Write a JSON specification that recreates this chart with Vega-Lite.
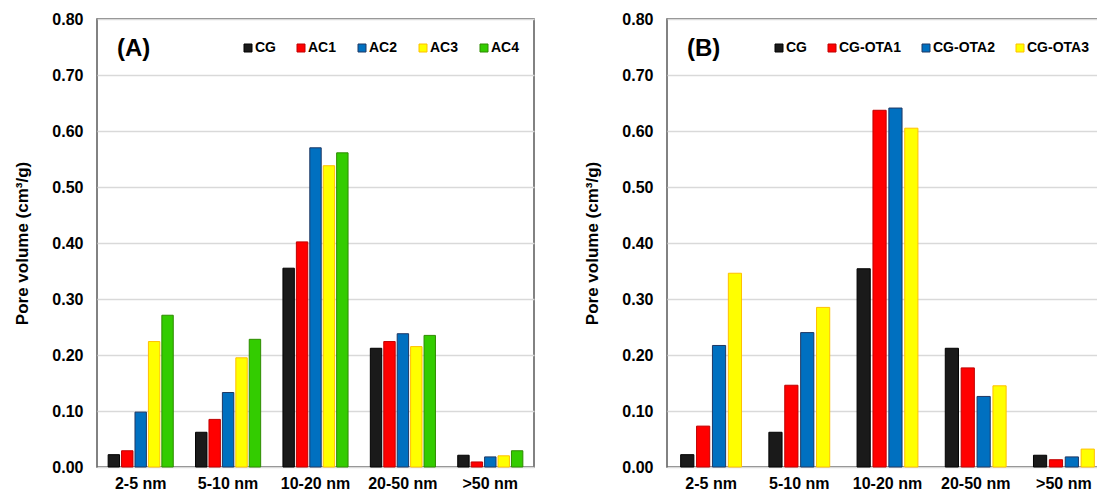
{
  "$schema": "https://vega.github.io/schema/vega-lite/v6.json",
  "background": "white",
  "padding": {"left": 13, "top": 10, "right": 0, "bottom": 0},
  "spacing": 48,
  "config": {
    "font": "Liberation Sans",
    "view": {"stroke": "#595959", "strokeWidth": 1.5},
    "axis": {
      "labelFont": "Liberation Sans",
      "labelFontSize": 16,
      "labelFontWeight": "bold",
      "labelColor": "#000000",
      "titleFont": "Liberation Sans",
      "titleFontSize": 17,
      "titleFontWeight": "bold",
      "titleColor": "#000000",
      "ticks": false,
      "domain": false
    },
    "axisX": {"grid": false, "labelPadding": 8, "labelAngle": 0, "title": null},
    "axisY": {"gridColor": "#d9d9d9", "gridWidth": 1.5, "labelPadding": 14, "titlePadding": 20},
    "legend": {
      "orient": "none",
      "direction": "horizontal",
      "title": null,
      "padding": 0,
      "labelFont": "Liberation Sans",
      "labelFontSize": 14,
      "labelFontWeight": "bold",
      "labelColor": "#000000",
      "labelOffset": 0,
      "symbolType": "square",
      "symbolSize": 64,
      "symbolStrokeWidth": 1,
      "columnPadding": 18
    },
    "title": {
      "font": "Liberation Sans",
      "fontSize": 24,
      "fontWeight": "bold",
      "color": "#000000",
      "anchor": "start",
      "frame": "group",
      "offset": 0,
      "baseline": "alphabetic",
      "dx": 20,
      "dy": 54
    }
  },
  "hconcat": [
    {
      "width": 437,
      "height": 448,
      "title": {"text": "(A)"},
      "data": {
        "values": [
          {"size": "2-5 nm", "sample": "CG", "volume": 0.022},
          {"size": "2-5 nm", "sample": "AC1", "volume": 0.029},
          {"size": "2-5 nm", "sample": "AC2", "volume": 0.098},
          {"size": "2-5 nm", "sample": "AC3", "volume": 0.224},
          {"size": "2-5 nm", "sample": "AC4", "volume": 0.271},
          {"size": "5-10 nm", "sample": "CG", "volume": 0.062},
          {"size": "5-10 nm", "sample": "AC1", "volume": 0.085},
          {"size": "5-10 nm", "sample": "AC2", "volume": 0.133},
          {"size": "5-10 nm", "sample": "AC3", "volume": 0.195},
          {"size": "5-10 nm", "sample": "AC4", "volume": 0.228},
          {"size": "10-20 nm", "sample": "CG", "volume": 0.355},
          {"size": "10-20 nm", "sample": "AC1", "volume": 0.402},
          {"size": "10-20 nm", "sample": "AC2", "volume": 0.570},
          {"size": "10-20 nm", "sample": "AC3", "volume": 0.538},
          {"size": "10-20 nm", "sample": "AC4", "volume": 0.561},
          {"size": "20-50 nm", "sample": "CG", "volume": 0.212},
          {"size": "20-50 nm", "sample": "AC1", "volume": 0.224},
          {"size": "20-50 nm", "sample": "AC2", "volume": 0.238},
          {"size": "20-50 nm", "sample": "AC3", "volume": 0.215},
          {"size": "20-50 nm", "sample": "AC4", "volume": 0.235},
          {"size": ">50 nm", "sample": "CG", "volume": 0.021},
          {"size": ">50 nm", "sample": "AC1", "volume": 0.009},
          {"size": ">50 nm", "sample": "AC2", "volume": 0.018},
          {"size": ">50 nm", "sample": "AC3", "volume": 0.020},
          {"size": ">50 nm", "sample": "AC4", "volume": 0.029}
        ]
      },
      "mark": {"type": "bar", "strokeWidth": 1},
      "encoding": {
        "x": {
          "field": "size",
          "type": "nominal",
          "sort": ["2-5 nm", "5-10 nm", "10-20 nm", "20-50 nm", ">50 nm"],
          "scale": {"paddingInner": 0.255, "paddingOuter": 0.1275}
        },
        "xOffset": {
          "field": "sample",
          "type": "nominal",
          "sort": ["CG", "AC1", "AC2", "AC3", "AC4"],
          "scale": {"paddingInner": 0.15}
        },
        "y": {
          "field": "volume",
          "type": "quantitative",
          "scale": {"domain": [0, 0.8], "nice": false},
          "axis": {
            "values": [0, 0.1, 0.2, 0.3, 0.4, 0.5, 0.6, 0.7, 0.8],
            "format": ".2f",
            "title": "Pore volume (cm³/g)"
          }
        },
        "fill": {
          "field": "sample",
          "type": "nominal",
          "scale": {
            "domain": ["CG", "AC1", "AC2", "AC3", "AC4"],
            "range": ["#1a1a1a", "#ff0000", "#0070c0", "#ffff00", "#33cc00"]
          },
          "legend": {"legendX": 144, "legendY": 22}
        },
        "stroke": {
          "field": "sample",
          "type": "nominal",
          "scale": {
            "domain": ["CG", "AC1", "AC2", "AC3", "AC4"],
            "range": ["#000000", "#c00000", "#1f3864", "#ffc000", "#2e8b00"]
          },
          "legend": {"legendX": 144, "legendY": 22}
        }
      }
    },
    {
      "width": 441,
      "height": 448,
      "title": {"text": "(B)"},
      "data": {
        "values": [
          {"size": "2-5 nm", "sample": "CG", "volume": 0.022},
          {"size": "2-5 nm", "sample": "CG-OTA1", "volume": 0.073},
          {"size": "2-5 nm", "sample": "CG-OTA2", "volume": 0.217},
          {"size": "2-5 nm", "sample": "CG-OTA3", "volume": 0.346},
          {"size": "5-10 nm", "sample": "CG", "volume": 0.062},
          {"size": "5-10 nm", "sample": "CG-OTA1", "volume": 0.146},
          {"size": "5-10 nm", "sample": "CG-OTA2", "volume": 0.240},
          {"size": "5-10 nm", "sample": "CG-OTA3", "volume": 0.285},
          {"size": "10-20 nm", "sample": "CG", "volume": 0.354},
          {"size": "10-20 nm", "sample": "CG-OTA1", "volume": 0.637},
          {"size": "10-20 nm", "sample": "CG-OTA2", "volume": 0.641},
          {"size": "10-20 nm", "sample": "CG-OTA3", "volume": 0.605},
          {"size": "20-50 nm", "sample": "CG", "volume": 0.212},
          {"size": "20-50 nm", "sample": "CG-OTA1", "volume": 0.177},
          {"size": "20-50 nm", "sample": "CG-OTA2", "volume": 0.126},
          {"size": "20-50 nm", "sample": "CG-OTA3", "volume": 0.145},
          {"size": ">50 nm", "sample": "CG", "volume": 0.021},
          {"size": ">50 nm", "sample": "CG-OTA1", "volume": 0.013},
          {"size": ">50 nm", "sample": "CG-OTA2", "volume": 0.018},
          {"size": ">50 nm", "sample": "CG-OTA3", "volume": 0.032}
        ]
      },
      "mark": {"type": "bar", "strokeWidth": 1},
      "encoding": {
        "x": {
          "field": "size",
          "type": "nominal",
          "sort": ["2-5 nm", "5-10 nm", "10-20 nm", "20-50 nm", ">50 nm"],
          "scale": {"paddingInner": 0.31, "paddingOuter": 0.155}
        },
        "xOffset": {
          "field": "sample",
          "type": "nominal",
          "sort": ["CG", "CG-OTA1", "CG-OTA2", "CG-OTA3"],
          "scale": {"paddingInner": 0.17}
        },
        "y": {
          "field": "volume",
          "type": "quantitative",
          "scale": {"domain": [0, 0.8], "nice": false},
          "axis": {
            "values": [0, 0.1, 0.2, 0.3, 0.4, 0.5, 0.6, 0.7, 0.8],
            "format": ".2f",
            "title": "Pore volume (cm³/g)"
          }
        },
        "fill": {
          "field": "sample",
          "type": "nominal",
          "scale": {
            "domain": ["CG", "CG-OTA1", "CG-OTA2", "CG-OTA3"],
            "range": ["#1a1a1a", "#ff0000", "#0070c0", "#ffff00"]
          },
          "legend": {"legendX": 105, "legendY": 22}
        },
        "stroke": {
          "field": "sample",
          "type": "nominal",
          "scale": {
            "domain": ["CG", "CG-OTA1", "CG-OTA2", "CG-OTA3"],
            "range": ["#000000", "#c00000", "#1f3864", "#ffc000"]
          },
          "legend": {"legendX": 105, "legendY": 22}
        }
      }
    }
  ],
  "resolve": {
    "scale": {"fill": "independent", "stroke": "independent", "xOffset": "independent", "x": "independent"},
    "legend": {"fill": "independent", "stroke": "independent"}
  }
}
